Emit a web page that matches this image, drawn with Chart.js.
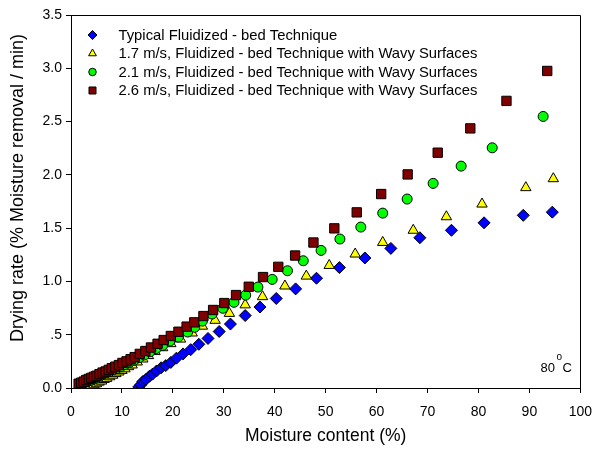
<!DOCTYPE html>
<html>
<head>
<meta charset="utf-8">
<script src="https://cdn.jsdelivr.net/npm/chart.js@4"></script>
<style>
  body { margin: 0; background: #fff; }
  canvas { display: block; }
</style>
</head>
<body>
<canvas id="chart" width="603" height="450"></canvas>
<script>
// Daten (Feuchte in %, Trocknungsrate)
const typicalX = [13.3, 13.7, 14.1, 14.7, 15.4, 16.0, 16.8, 17.7, 18.6, 19.6, 20.7, 22.0, 23.5, 25.1, 26.9, 29.1, 31.3, 34.2, 37.1, 40.3, 44.1, 48.2, 52.7, 57.7, 62.8, 68.5, 74.7, 81.1, 88.8, 94.5];
const typicalY = [0.01, 0.03, 0.06, 0.08, 0.11, 0.13, 0.16, 0.19, 0.21, 0.24, 0.28, 0.32, 0.36, 0.41, 0.465, 0.53, 0.60, 0.68, 0.76, 0.84, 0.93, 1.03, 1.13, 1.22, 1.31, 1.41, 1.48, 1.55, 1.62, 1.65];

const wavy17X = [4.5, 5.0, 5.5, 6.0, 6.5, 7.0, 7.6, 8.2, 8.8, 9.4, 10.0, 10.6, 11.3, 12.0, 13.0, 14.1, 15.2, 16.5, 18.0, 19.6, 21.5, 23.8, 25.8, 28.3, 31.1, 34.2, 37.6, 42.0, 46.2, 50.7, 55.8, 61.2, 67.2, 73.7, 80.7, 89.3, 94.7];
const wavy17Y = [0.03, 0.04, 0.055, 0.065, 0.08, 0.09, 0.105, 0.12, 0.135, 0.15, 0.165, 0.18, 0.20, 0.216, 0.244, 0.272, 0.304, 0.342, 0.378, 0.416, 0.459, 0.516, 0.58, 0.635, 0.70, 0.78, 0.857, 0.957, 1.05, 1.15, 1.257, 1.366, 1.48, 1.607, 1.726, 1.88, 1.964];

const wavy21X = [2.0, 2.6, 3.2, 3.8, 4.4, 5.0, 5.6, 6.2, 6.9, 7.6, 8.3, 9.0, 9.8, 10.6, 11.5, 12.4, 13.4, 14.4, 15.5, 16.7, 18.0, 19.4, 21.1, 22.9, 24.3, 25.8, 27.7, 29.8, 32.0, 34.3, 36.7, 39.5, 42.5, 45.6, 49.1, 52.8, 56.9, 61.2, 66.0, 71.1, 76.6, 82.7, 92.7];
const wavy21Y = [0.035, 0.045, 0.06, 0.07, 0.085, 0.095, 0.11, 0.125, 0.14, 0.155, 0.17, 0.185, 0.20, 0.22, 0.24, 0.26, 0.285, 0.31, 0.34, 0.37, 0.40, 0.44, 0.48, 0.525, 0.57, 0.628, 0.694, 0.748, 0.804, 0.872, 0.947, 1.019, 1.10, 1.194, 1.291, 1.398, 1.51, 1.641, 1.773, 1.92, 2.082, 2.254, 2.548];

const wavy26X = [1.5, 2.0, 2.5, 3.0, 3.5, 4.0, 4.5, 5.0, 5.6, 6.2, 6.8, 7.4, 8.0, 8.7, 9.4, 10.1, 10.9, 11.7, 12.5, 13.5, 14.6, 15.7, 17.0, 18.2, 19.6, 21.1, 22.7, 24.2, 26.0, 27.9, 30.1, 32.4, 34.9, 37.7, 40.7, 44.0, 47.6, 51.7, 56.1, 60.9, 66.1, 72.0, 78.4, 85.5, 93.5];
const wavy26Y = [0.04, 0.05, 0.06, 0.075, 0.085, 0.095, 0.105, 0.115, 0.13, 0.145, 0.155, 0.17, 0.185, 0.20, 0.215, 0.235, 0.25, 0.27, 0.29, 0.32, 0.347, 0.38, 0.415, 0.45, 0.488, 0.528, 0.576, 0.616, 0.675, 0.732, 0.797, 0.872, 0.95, 1.041, 1.137, 1.243, 1.365, 1.498, 1.648, 1.82, 2.004, 2.208, 2.436, 2.694, 2.975];

const seriesLabels = [
    'Typical Fluidized - bed Technique',
    '1.7 m/s, Fluidized - bed Technique with Wavy Surfaces',
    '2.1 m/s, Fluidized - bed Technique with Wavy Surfaces',
    '2.6 m/s, Fluidized - bed Technique with Wavy Surfaces'
];
const xTicks = [0, 10, 20, 30, 40, 50, 60, 70, 80, 90, 100];
const yTicks = [0, 0.5, 1.0, 1.5, 2.0, 2.5, 3.0, 3.5];
const yTitle = 'Drying rate (% Moisture removal / min)';

const FONT = "'Liberation Sans', Arial, sans-serif";

function toPoints(xs, ys) {
    return xs.map((x, i) => ({ x: x, y: ys[i] }));
}

function yTickLabel(v) {
    if (v === 0) return '0.0';
    if (v === 0.5) return '.5';
    return v.toFixed(1);
}

const datasets = [
    { label: seriesLabels[0], data: toPoints(typicalX, typicalY), pointStyle: 'rectRot', pointRadius: 6, backgroundColor: '#0000ff', order: 3 },
    { label: seriesLabels[1], data: toPoints(wavy17X, wavy17Y), pointStyle: 'triangle', pointRadius: 6, backgroundColor: '#ffff00', order: 2 },
    { label: seriesLabels[2], data: toPoints(wavy21X, wavy21Y), pointStyle: 'circle', pointRadius: 5, backgroundColor: '#00ff00', order: 1 },
    { label: seriesLabels[3], data: toPoints(wavy26X, wavy26Y), pointStyle: 'rect', pointRadius: 6.6, backgroundColor: '#800000', order: 0 }
];
datasets.forEach(ds => {
    ds.borderColor = '#000';
    ds.borderWidth = 1;
    ds.showLine = false;
    ds.pointHoverRadius = ds.pointRadius;
});

// Rahmen, Legende im Diagramm, y-Titel und Temperaturangabe
const extrasPlugin = {
    id: 'extras',
    afterDraw(chart) {
        const ctx = chart.ctx;
        const area = chart.chartArea;
        ctx.save();
        ctx.strokeStyle = '#000';
        ctx.lineWidth = 1;
        ctx.beginPath();
        ctx.moveTo(Math.round(area.left) + 0.5, Math.round(area.top) + 0.5);
        ctx.lineTo(Math.round(area.right) + 0.5, Math.round(area.top) + 0.5);
        ctx.lineTo(Math.round(area.right) + 0.5, Math.round(area.bottom) + 0.5);
        ctx.stroke();

        const rowsY = [35, 53.5, 72, 90.5];
        chart.data.datasets.forEach((ds, i) => {
            ctx.fillStyle = ds.backgroundColor;
            ctx.strokeStyle = '#000';
            ctx.lineWidth = 1;
            Chart.helpers.drawPoint(ctx, {
                pointStyle: ds.pointStyle,
                radius: ds.pointRadius * 0.75,
                rotation: 0,
                borderWidth: 1
            }, 92.5, rowsY[i]);
            ctx.fillStyle = '#000';
            ctx.font = '14.8px ' + FONT;
            ctx.textBaseline = 'middle';
            ctx.textAlign = 'left';
            ctx.fillText(ds.label, 118.5, rowsY[i] + 0.5);
        });

        // y-Achsentitel
        ctx.save();
        ctx.translate(18, 188);
        ctx.rotate(-Math.PI / 2);
        ctx.font = '18px ' + FONT;
        ctx.textAlign = 'center';
        ctx.textBaseline = 'middle';
        ctx.fillText(yTitle, 0, 0);
        ctx.restore();

        ctx.fillStyle = '#000';
        ctx.textAlign = 'left';
        ctx.textBaseline = 'alphabetic';
        ctx.font = '13px ' + FONT;
        ctx.fillText('80', 540.5, 372);
        ctx.font = '10px ' + FONT;
        ctx.fillText('o', 556.5, 360);
        ctx.font = '13px ' + FONT;
        ctx.fillText('C', 562.5, 372);
        ctx.restore();
    }
};

const ctx = document.getElementById('chart').getContext('2d');
const chartInstance = new Chart(ctx, {
    type: 'scatter',
    data: { datasets: datasets },
    options: {
        responsive: false,
        animation: false,
        layout: { padding: { left: 0, right: 13, top: 15, bottom: 0 } },
        plugins: {
            legend: { display: false },
            tooltip: { enabled: false }
        },
        scales: {
            x: {
                type: 'linear',
                min: 0,
                max: 100,
                afterBuildTicks: s => { s.ticks = xTicks.map(v => ({ value: v })); },
                afterFit: s => { s.height = 62; },
                ticks: { color: '#000', font: { family: FONT, size: 14 }, padding: 11, maxRotation: 0 },
                grid: { drawOnChartArea: false, tickLength: 5, tickColor: '#000' },
                border: { color: '#000', width: 1 },
                title: {
                    display: true,
                    text: 'Moisture content (%)',
                    color: '#000',
                    font: { family: FONT, size: 17.5 },
                    padding: { top: 0, bottom: 3 }
                }
            },
            y: {
                type: 'linear',
                min: 0,
                max: 3.5,
                afterBuildTicks: s => { s.ticks = yTicks.map(v => ({ value: v })); },
                afterFit: s => { s.width = 71; },
                ticks: { color: '#000', font: { family: FONT, size: 14 }, padding: 4, callback: v => yTickLabel(v) },
                grid: { drawOnChartArea: false, tickLength: 5, tickColor: '#000' },
                border: { color: '#000', width: 1 }
            }
        }
    },
    plugins: [extrasPlugin]
});
</script>
</body>
</html>
